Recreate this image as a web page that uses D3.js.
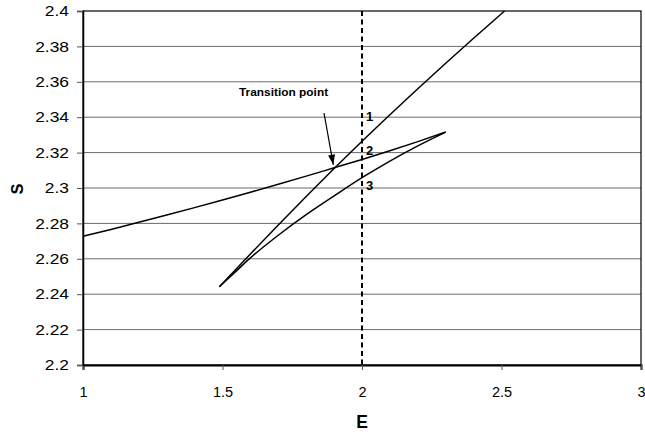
<!DOCTYPE html>
<html>
<head>
<meta charset="utf-8">
<script src="https://cdn.jsdelivr.net/npm/d3@7"></script>
<style>
  html, body { margin: 0; padding: 0; background: #fff; }
  svg { display: block; font-family: "Liberation Sans", Arial, sans-serif; }
</style>
</head>
<body>
<svg id="chart" width="645" height="436"></svg>
<script>
// Entropy S against energy E for the three branches
const branch1E = [1.4885, 1.6, 1.7, 1.8, 1.9, 2.0, 2.1, 2.2, 2.3, 2.4, 2.511];
const branch1S = [2.2442, 2.2627, 2.2791, 2.2952, 2.3110, 2.3264, 2.3414, 2.3561, 2.3705, 2.3846, 2.4];

const branch2E = [1.0, 1.1, 1.2, 1.3, 1.4, 1.5, 1.6, 1.7, 1.8, 1.9, 2.0, 2.1, 2.2, 2.3];
const branch2S = [2.2727, 2.2766, 2.2806, 2.2847, 2.2889, 2.2932, 2.2976, 2.3021, 2.3067, 2.3114, 2.3161, 2.3210, 2.3262, 2.3316];

const branch3E = [1.4885, 1.55, 1.6, 1.7, 1.8, 1.9, 2.0, 2.1, 2.2, 2.3];
const branch3S = [2.2442, 2.2532, 2.2605, 2.2733, 2.2849, 2.2955, 2.3058, 2.3152, 2.3238, 2.3316];

const xTicks = [1, 1.5, 2, 2.5, 3];
const yTicks = [2.2, 2.22, 2.24, 2.26, 2.28, 2.3, 2.32, 2.34, 2.36, 2.38, 2.4];

const markerE = 2.0;                  // vertical dashed line
const transition = {E: 1.9008, S: 2.3114};
const branchLabels = [
  {text: "1", S: 2.3406},
  {text: "2", S: 2.3213},
  {text: "3", S: 2.3015}
];

const svg = d3.select("#chart");
const W = 645, H = 436;
const m = {left: 83, top: 11, right: 4, bottom: 71};
const pw = W - m.left - m.right, ph = H - m.top - m.bottom;

const x = d3.scaleLinear().domain([1, 3]).range([m.left, m.left + pw]);
const y = d3.scaleLinear().domain([2.2, 2.4]).range([m.top + ph, m.top]);

// widen a text element horizontally by a factor
function widen(sel, k) {
  sel.each(function () {
    const w = this.getComputedTextLength();
    d3.select(this).attr("textLength", w * k).attr("lengthAdjust", "spacingAndGlyphs");
  });
}

// horizontal grid lines
svg.append("g").selectAll("line").data(yTicks.slice(1, -1)).join("line")
  .attr("x1", m.left).attr("x2", m.left + pw)
  .attr("y1", d => y(d)).attr("y2", d => y(d))
  .attr("stroke", "#6a6a6a").attr("stroke-width", 1);

// frame of the plot area
svg.append("rect")
  .attr("x", m.left).attr("y", m.top).attr("width", pw).attr("height", ph)
  .attr("fill", "none").attr("stroke", "#000").attr("stroke-width", 1.2);

// axes
const xAxis = d3.axisBottom(x).tickValues(xTicks).tickSize(5).tickPadding(17)
  .tickFormat(d3.format("~g"));
const gx = svg.append("g").attr("transform", `translate(0,${m.top + ph})`).call(xAxis);
gx.select(".domain").attr("stroke-width", 2);
const yAxis = d3.axisLeft(y).tickValues(yTicks).tickSize(6).tickPadding(8)
  .tickFormat(d3.format("~g"));
const gy = svg.append("g").attr("transform", `translate(${m.left},0)`).call(yAxis);
gy.select(".domain").attr("stroke-width", 1.5);
svg.selectAll(".tick line").attr("stroke", "#555");
gx.selectAll(".tick text").attr("font-size", 14.5).attr("fill", "#000")
  .attr("font-family", "'Liberation Sans', Arial, sans-serif");
gy.selectAll(".tick text").attr("font-size", 14.5).attr("fill", "#000")
  .attr("font-family", "'Liberation Sans', Arial, sans-serif")
  .call(widen, 1.2);

// axis titles
svg.append("text").attr("x", x(2)).attr("y", 428).attr("text-anchor", "middle")
  .attr("font-size", 17.5).attr("font-weight", "bold").text("E");
svg.append("text").attr("transform", `translate(23,${y(2.3) + 1}) rotate(-90)`)
  .attr("text-anchor", "middle").attr("font-size", 16.5).attr("font-weight", "bold").text("S");

// dashed line at E = 2
svg.append("line")
  .attr("x1", x(markerE)).attr("x2", x(markerE))
  .attr("y1", m.top).attr("y2", m.top + ph)
  .attr("stroke", "#000").attr("stroke-width", 2).attr("stroke-dasharray", "5,3.5");

// branches
const line = d3.line().x(d => x(d[0])).y(d => y(d[1])).curve(d3.curveMonotoneX);
[[branch1E, branch1S], [branch2E, branch2S], [branch3E, branch3S]].forEach(([es, ss]) => {
  svg.append("path").datum(es.map((e, i) => [e, ss[i]]))
    .attr("d", line).attr("fill", "none").attr("stroke", "#000").attr("stroke-width", 1.5);
});

// branch numbers beside the dashed line
svg.append("g").selectAll("text").data(branchLabels).join("text")
  .attr("x", x(markerE) + 4).attr("y", d => y(d.S) + 5)
  .attr("font-size", 13).attr("font-weight", "bold").text(d => d.text);

// transition point annotation
svg.append("text").attr("x", 239).attr("y", 96)
  .attr("font-size", 11).attr("font-weight", "bold").text("Transition point")
  .call(widen, 1.08);
const tipX = x(transition.E) - 1, tipY = y(transition.S) - 3;
const startX = 324, startY = 113;
svg.append("line").attr("x1", startX).attr("y1", startY).attr("x2", tipX).attr("y2", tipY)
  .attr("stroke", "#000").attr("stroke-width", 1.2);
const ang = Math.atan2(tipY - startY, tipX - startX);
const hl = 10, hw = 3.5;
const bx = tipX - hl * Math.cos(ang), by = tipY - hl * Math.sin(ang);
svg.append("path")
  .attr("d", `M${tipX},${tipY} L${bx - hw * Math.sin(ang)},${by + hw * Math.cos(ang)} L${bx + hw * Math.sin(ang)},${by - hw * Math.cos(ang)} Z`)
  .attr("fill", "#000");
</script>
</body>
</html>
